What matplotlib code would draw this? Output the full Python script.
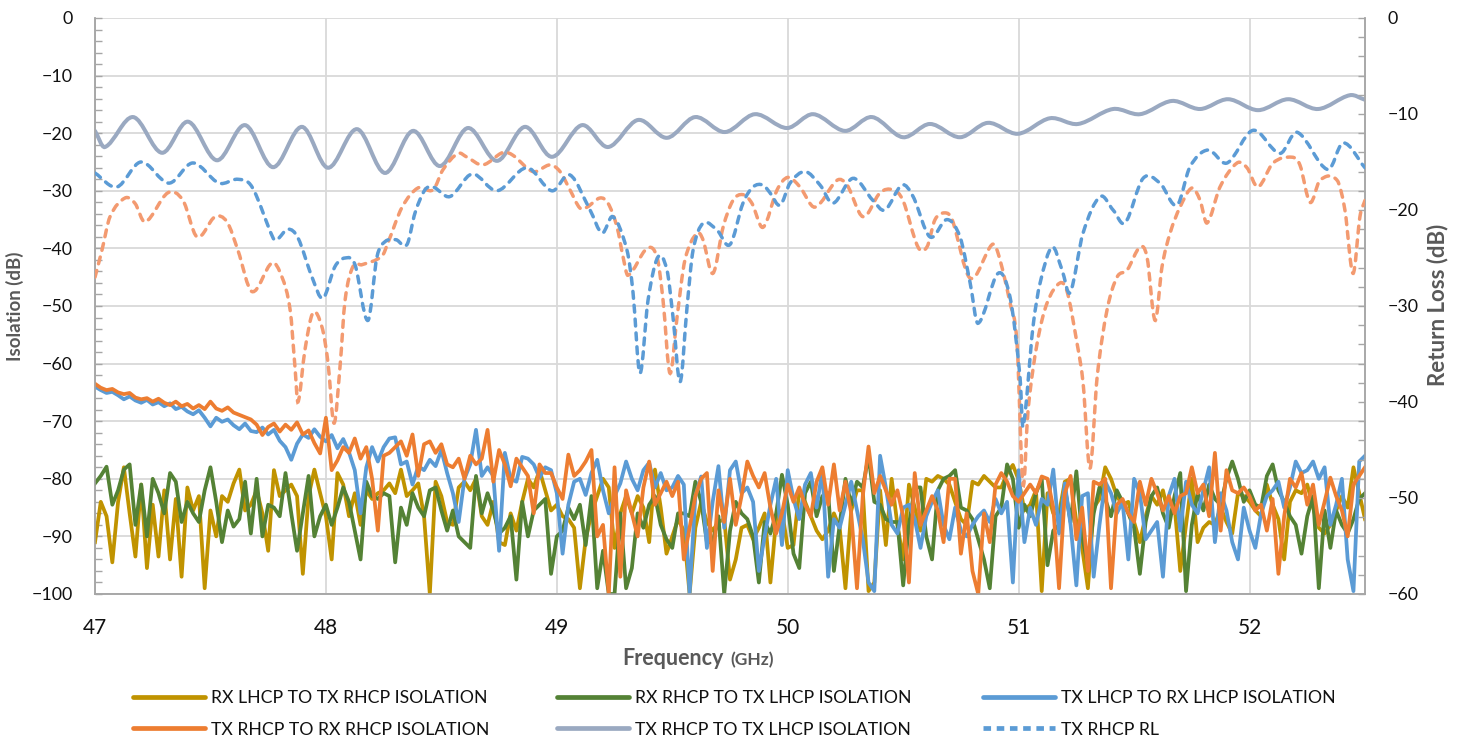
import numpy as np
import matplotlib
matplotlib.use("Agg")
import matplotlib.pyplot as plt
from matplotlib.path import Path
from matplotlib.patches import PathPatch
from matplotlib.lines import Line2D
from matplotlib.ticker import MultipleLocator

plt.rcParams['font.family'] = ['Lato', 'DejaVu Sans']

# ---- frequency sweep for the isolation traces (GHz) ----
freq = np.round(47.0 + 0.025 * np.arange(221), 3)

# ---- isolation traces (dB), left axis ----
rx_lhcp_tx_rhcp = [
    -91.0, -84.0, -86.5, -94.5, -84.0, -78.0, -86.0, -93.5, -81.0, -95.5, -84.5, -93.5, -82.0, -94.0, -83.5, -97.0, -81.5, -85.5, -83.0, -99.0,
    -85.5, -90.0, -83.0, -84.0, -80.8, -78.4, -85.5, -84.5, -82.0, -86.0, -92.5, -78.5, -83.0, -82.0, -81.0, -83.0, -96.5, -83.0, -78.4, -82.5,
    -86.5, -94.0, -79.0, -81.0, -86.5, -82.5, -88.0, -82.0, -83.5, -82.5, -82.0, -80.8, -82.5, -78.4, -83.0, -82.0, -80.8, -86.5, -100.0, -80.5,
    -83.0, -87.5, -88.0, -81.5, -80.5, -82.0, -80.0, -86.5, -88.0, -84.0, -91.0, -91.5, -86.0, -89.0, -84.0, -80.0, -81.5, -78.5, -82.0, -85.5,
    -84.5, -86.5, -87.0, -88.5, -99.0, -90.5, -86.0, -83.0, -80.0, -81.5, -92.0, -86.0, -83.0, -86.0, -83.0, -85.0, -91.0, -78.4, -85.0, -93.0,
    -90.0, -87.0, -89.0, -100.0, -88.5, -84.0, -87.5, -89.0, -87.5, -87.0, -97.5, -94.0, -88.5, -88.0, -90.5, -88.5, -86.0, -98.0, -87.0, -85.5,
    -92.0, -91.5, -82.0, -84.0, -86.5, -89.0, -90.5, -89.0, -86.0, -88.5, -99.0, -85.5, -82.0, -82.0, -99.5, -98.0, -82.0, -91.5, -80.0, -88.0,
    -94.0, -81.0, -85.0, -89.0, -80.0, -80.5, -79.5, -80.0, -81.0, -84.0, -87.0, -88.0, -80.5, -81.0, -79.5, -80.5, -81.5, -81.5, -79.0, -77.6,
    -80.2, -85.5, -84.5, -82.0, -99.5, -82.5, -86.0, -86.0, -80.5, -80.0, -87.5, -92.0, -99.0, -85.0, -83.5, -78.0, -80.0, -83.0, -84.5, -84.0,
    -87.5, -91.0, -86.5, -83.0, -84.5, -82.0, -86.5, -84.5, -96.0, -88.0, -80.0, -91.0, -88.5, -87.5, -88.0, -85.0, -87.5, -89.5, -82.5, -83.0,
    -84.0, -85.5, -86.5, -81.0, -84.5, -87.0, -94.0, -84.0, -82.0, -82.5, -81.0, -85.0, -88.5, -89.5, -88.0, -85.5, -83.0, -85.0, -78.0, -82.5, -87.0,
]

rx_rhcp_tx_lhcp = [
    -80.8, -79.5, -77.9, -84.5, -82.0, -78.4, -77.5, -88.0, -81.0, -90.0, -80.0, -82.5, -86.0, -79.0, -80.5, -87.5, -84.0, -86.0, -87.5, -82.0,
    -78.0, -84.0, -91.0, -85.5, -88.3, -87.0, -80.5, -89.5, -80.0, -90.0, -84.5, -85.0, -86.5, -79.0, -86.0, -92.5, -86.0, -79.5, -90.0, -86.5,
    -84.5, -88.0, -85.0, -81.5, -84.0, -89.0, -94.0, -80.5, -83.0, -83.5, -82.5, -83.0, -94.5, -85.0, -88.0, -82.5, -85.0, -86.5, -82.0, -81.5,
    -85.5, -89.0, -85.5, -90.0, -91.0, -92.0, -79.5, -86.0, -82.5, -85.5, -89.5, -88.5, -86.5, -97.5, -84.0, -90.0, -85.5, -84.5, -83.5, -96.5,
    -90.0, -89.0, -85.0, -87.0, -84.5, -91.5, -83.0, -99.0, -92.5, -100.0, -100.0, -86.0, -99.0, -95.5, -86.0, -88.5, -84.5, -83.0, -88.0, -90.5,
    -92.0, -86.0, -86.0, -86.5, -80.5, -84.0, -91.0, -91.0, -86.5, -100.0, -89.0, -84.0, -86.0, -87.0, -90.0, -98.0, -87.5, -89.5, -86.0, -79.3,
    -84.5, -93.0, -95.5, -82.5, -80.5, -86.5, -83.0, -82.5, -96.0, -88.0, -80.0, -84.5, -80.5, -81.5, -76.0, -84.0, -84.5, -87.0, -87.5, -87.5,
    -98.5, -88.0, -81.5, -81.5, -90.0, -94.0, -82.0, -80.0, -79.5, -78.5, -85.0, -85.5, -87.0, -90.5, -94.0, -99.0, -86.5, -85.0, -77.5, -80.0,
    -88.5, -84.5, -86.5, -82.5, -80.0, -95.0, -89.0, -88.0, -81.5, -87.5, -78.7, -90.0, -95.0, -86.0, -81.5, -83.5, -86.5, -82.0, -84.0, -86.0,
    -88.5, -96.5, -87.5, -83.0, -81.5, -86.0, -88.5, -83.0, -79.0, -99.5, -88.0, -82.5, -85.5, -81.0, -83.5, -84.5, -80.0, -77.0, -80.0, -84.0,
    -82.0, -84.5, -85.0, -79.5, -77.5, -82.0, -84.0, -86.5, -88.0, -93.0, -86.5, -83.0, -99.0, -85.5, -92.0, -85.5, -88.0, -89.5, -87.0, -83.5, -82.5,
]

tx_lhcp_rx_lhcp = [
    -64.0, -64.6, -65.1, -64.9, -65.5, -66.2, -65.7, -66.4, -66.8, -66.3, -67.1, -66.7, -67.4, -66.9, -67.9, -67.5, -68.3, -68.8, -68.1, -69.4,
    -70.9, -69.4, -70.1, -69.7, -70.7, -71.4, -70.4, -71.7, -71.9, -71.1, -72.3, -71.5, -73.4, -74.5, -76.7, -73.9, -72.3, -72.9, -71.4, -72.7,
    -73.5, -72.4, -74.7, -73.1, -75.4, -78.5, -86.0, -78.0, -74.5, -77.0, -74.5, -73.0, -72.8, -77.5, -77.0, -81.0, -77.8, -78.5, -76.7, -77.8,
    -75.0, -79.0, -82.5, -87.5, -80.0, -77.5, -71.5, -79.5, -78.0, -79.5, -92.5, -75.5, -80.0, -80.5, -76.2, -76.5, -77.5, -79.8, -78.0, -78.5,
    -82.5, -93.0, -84.5, -80.5, -80.0, -82.8, -79.0, -76.7, -82.0, -86.0, -83.0, -80.8, -77.0, -80.0, -82.0, -78.5, -77.2, -81.5, -79.0, -82.0,
    -81.5, -79.5, -81.0, -100.0, -83.0, -79.6, -92.0, -84.0, -77.8, -88.5, -78.5, -77.0, -82.5, -81.5, -84.0, -96.0, -90.0, -84.5, -80.0, -91.5,
    -78.5, -83.5, -87.0, -81.0, -79.0, -85.0, -78.5, -97.0, -87.0, -88.5, -84.5, -80.5, -85.5, -90.5, -98.0, -99.5, -76.0, -81.5, -88.0, -89.5,
    -85.0, -84.5, -87.0, -92.0, -86.5, -84.0, -82.0, -88.0, -90.5, -85.0, -89.0, -90.0, -88.0, -86.5, -85.5, -87.5, -83.5, -86.0, -84.0, -98.0,
    -78.5, -91.0, -85.0, -88.0, -83.5, -84.5, -78.4, -89.5, -80.8, -88.0, -98.5, -83.0, -82.5, -97.0, -88.0, -80.5, -82.5, -86.0, -84.0, -94.0,
    -80.0, -82.5, -90.5, -89.0, -87.5, -97.0, -83.0, -80.0, -89.0, -80.5, -84.5, -86.0, -82.0, -78.0, -91.0, -82.5, -85.5, -91.0, -94.0, -85.0,
    -89.0, -92.0, -86.0, -83.0, -82.0, -80.5, -85.0, -81.5, -77.0, -79.0, -78.5, -77.0, -80.0, -78.0, -88.0, -84.5, -80.0, -94.0, -99.5, -77.0, -76.0,
]

tx_rhcp_rx_rhcp = [
    -63.5, -64.2, -64.6, -64.4, -65.0, -65.3, -65.1, -65.9, -66.2, -66.0, -66.6, -66.1, -66.8, -67.2, -66.6, -67.4, -67.0, -67.8, -67.2, -67.9,
    -66.6, -67.8, -68.2, -67.6, -68.5, -68.9, -69.3, -69.7, -70.6, -72.4, -71.0, -70.4, -71.8, -70.6, -71.5, -70.2, -72.3, -71.6, -73.8, -75.6,
    -69.4, -78.5, -76.8, -74.5, -75.5, -73.0, -76.5, -74.5, -80.0, -89.0, -76.0, -75.5, -74.5, -73.5, -76.0, -72.3, -79.5, -74.0, -73.5, -75.5,
    -74.0, -77.5, -78.0, -76.5, -80.0, -76.0, -77.5, -76.5, -71.5, -80.5, -75.0, -77.5, -81.3, -76.5, -78.0, -79.5, -86.0, -77.5, -79.0, -79.0,
    -81.5, -83.5, -75.8, -79.5, -78.5, -77.0, -75.0, -90.0, -88.0, -100.0, -78.0, -97.0, -82.0, -86.0, -90.0, -81.5, -77.0, -84.5, -82.5, -80.5,
    -83.0, -80.5, -94.0, -88.5, -83.0, -80.0, -79.0, -96.0, -82.0, -87.5, -80.0, -88.0, -83.0, -77.0, -79.5, -81.5, -79.0, -85.0, -89.5, -86.0,
    -81.0, -84.0, -81.5, -84.5, -86.5, -80.5, -78.0, -84.5, -77.5, -85.5, -80.5, -86.0, -99.0, -83.0, -74.4, -82.5, -79.5, -82.0, -84.5, -82.0,
    -86.5, -98.0, -79.0, -88.0, -85.5, -83.0, -85.5, -91.0, -80.0, -80.0, -93.0, -86.0, -96.0, -100.0, -86.0, -91.0, -81.0, -79.0, -80.5, -83.0,
    -84.0, -82.5, -81.0, -82.5, -79.6, -80.0, -85.0, -99.0, -82.5, -79.5, -90.5, -85.0, -96.0, -80.5, -81.0, -80.0, -99.0, -84.5, -83.5, -86.0,
    -87.5, -80.5, -84.5, -80.0, -82.5, -85.5, -83.0, -86.0, -83.0, -82.5, -78.0, -82.5, -81.0, -86.5, -75.5, -89.0, -78.5, -82.0, -82.5, -81.5,
    -83.0, -85.5, -84.5, -89.0, -83.5, -96.5, -86.5, -80.0, -81.5, -79.0, -84.5, -81.0, -88.0, -84.0, -79.8, -83.0, -85.5, -90.0, -81.0, -79.5, -78.0,
]

# ---- TX RHCP to TX LHCP isolation (dB), left axis ----
tx_cross_freq = [47.000, 47.043, 47.165, 47.290, 47.403, 47.528, 47.650, 47.771, 47.896, 48.009,
                 48.135, 48.256, 48.377, 48.494, 48.615, 48.741, 48.862, 48.979, 49.109, 49.222,
                 49.352, 49.477, 49.599, 49.728, 49.858, 49.997, 50.110, 50.248, 50.365, 50.499,
                 50.616, 50.746, 50.867, 50.997, 51.136, 51.257, 51.409, 51.526, 51.664, 51.786,
                 51.907, 52.037, 52.167, 52.297, 52.435, 52.500]
tx_cross_iso = [-19.6, -22.4, -17.2, -23.4, -18.0, -24.7, -18.6, -25.9, -18.9, -26.0,
                -19.3, -26.9, -19.6, -25.7, -19.1, -24.8, -18.9, -24.1, -18.6, -22.4,
                -17.7, -20.8, -17.2, -19.8, -16.7, -19.1, -16.7, -19.6, -17.2, -20.7,
                -18.4, -20.7, -18.2, -20.1, -17.4, -18.4, -15.8, -16.7, -14.4, -15.8,
                -14.1, -16.0, -14.1, -15.8, -13.4, -14.2]

# ---- return loss (dB), right axis ----
rl_rhcp_freq = [47.000, 47.095, 47.199, 47.320, 47.424, 47.537, 47.619, 47.680, 47.771, 47.788,
                47.836, 47.879, 47.940, 47.987, 48.039, 48.083, 48.126, 48.182, 48.221, 48.256,
                48.304, 48.351, 48.386, 48.429, 48.464, 48.537, 48.633, 48.741, 48.871, 48.979,
                49.057, 49.144, 49.196, 49.243, 49.304, 49.330, 49.360, 49.395, 49.438, 49.477,
                49.503, 49.534, 49.564, 49.590, 49.633, 49.694, 49.750, 49.806, 49.850, 49.893,
                49.923, 49.967, 50.010, 50.075, 50.140, 50.196, 50.283, 50.369, 50.421, 50.495,
                50.543, 50.616, 50.690, 50.746, 50.790, 50.824, 50.911, 50.963, 51.006, 51.019,
                51.062, 51.093, 51.145, 51.188, 51.223, 51.279, 51.353, 51.409, 51.461, 51.539,
                51.612, 51.686, 51.742, 51.820, 51.903, 52.015, 52.132, 52.206, 52.340, 52.405,
                52.500]
rl_rhcp = [-16.15, -17.6, -15.0, -17.2, -15.1, -17.2, -16.8, -17.6, -22.9, -23.1,
           -22.0, -22.9, -27.0, -29.2, -25.9, -25.0, -25.7, -31.5, -24.9, -23.3,
           -23.1, -23.6, -20.3, -17.9, -17.6, -18.6, -16.25, -18.0, -15.6, -18.0,
           -16.35, -20.0, -22.4, -20.7, -24.2, -28.6, -37.0, -29.4, -24.9, -26.25,
           -31.1, -37.9, -30.1, -24.2, -21.4, -22.1, -23.6, -19.3, -17.6, -17.4,
           -18.2, -19.5, -17.2, -16.0, -17.4, -19.3, -16.7, -19.0, -20.0, -17.4,
           -18.6, -22.8, -21.0, -22.8, -27.6, -31.8, -26.6, -29.1, -37.4, -42.6,
           -32.2, -27.6, -23.85, -26.25, -28.6, -22.4, -18.6, -20.0, -21.35, -16.7,
           -17.2, -19.5, -15.5, -13.75, -15.1, -11.7, -14.1, -11.9, -15.8, -13.0,
           -15.6]

rl_lhcp_freq = [47.000, 47.030, 47.065, 47.130, 47.173, 47.217, 47.316, 47.381, 47.442, 47.520,
                47.572, 47.619, 47.680, 47.767, 47.810, 47.845, 47.866, 47.879, 47.909, 47.944,
                47.983, 48.009, 48.035, 48.061, 48.083, 48.117, 48.156, 48.243, 48.269, 48.330,
                48.399, 48.464, 48.507, 48.572, 48.611, 48.680, 48.767, 48.810, 48.897, 48.971,
                49.014, 49.057, 49.100, 49.131, 49.187, 49.222, 49.261, 49.287, 49.308, 49.391,
                49.434, 49.460, 49.490, 49.521, 49.555, 49.607, 49.633, 49.676, 49.720, 49.763,
                49.806, 49.845, 49.893, 49.954, 50.001, 50.053, 50.118, 50.214, 50.257, 50.326,
                50.400, 50.456, 50.499, 50.564, 50.603, 50.638, 50.681, 50.712, 50.790, 50.885,
                50.911, 50.963, 50.993, 51.019, 51.041, 51.080, 51.123, 51.179, 51.210, 51.253,
                51.279, 51.309, 51.340, 51.383, 51.426, 51.470, 51.526, 51.556, 51.591, 51.621,
                51.656, 51.699, 51.751, 51.786, 51.816, 51.872, 51.946, 51.989, 52.036, 52.102,
                52.184, 52.218, 52.262, 52.305, 52.379, 52.413, 52.448, 52.478, 52.500]
rl_lhcp = [-27.0, -24.2, -20.7, -18.75, -19.3, -21.25, -18.2, -19.0, -22.8, -20.7,
           -21.25, -24.2, -28.5, -25.5, -27.0, -30.4, -36.35, -40.0, -34.6, -30.7,
           -32.2, -35.9, -42.2, -36.35, -29.4, -25.9, -25.7, -24.8, -23.4, -19.7,
           -17.7, -17.9, -15.8, -14.1, -14.5, -15.3, -14.0, -14.3, -16.0, -15.3,
           -16.0, -17.9, -19.8, -19.7, -18.75, -19.3, -21.8, -24.9, -26.8, -24.0,
           -24.9, -29.4, -37.0, -31.1, -25.2, -22.4, -23.1, -26.6, -21.8, -19.0,
           -18.4, -19.3, -21.8, -17.9, -16.6, -17.6, -19.7, -16.9, -17.4, -20.7,
           -18.2, -17.9, -19.0, -23.85, -23.85, -21.0, -20.3, -21.0, -27.1, -23.6,
           -24.5, -29.7, -33.9, -48.6, -40.8, -33.9, -29.7, -27.6, -28.5, -33.9,
           -38.0, -46.9, -37.4, -30.4, -27.0, -26.25, -23.85, -24.9, -31.5, -25.9,
           -22.4, -19.7, -17.7, -19.0, -21.35, -17.6, -15.1, -15.6, -17.6, -15.1,
           -14.5, -15.3, -19.2, -16.9, -16.9, -20.0, -26.6, -20.7, -19.0]

legend_labels = ["RX LHCP TO TX RHCP ISOLATION", "RX RHCP TO TX LHCP ISOLATION",
                 "TX LHCP TO RX LHCP ISOLATION", "TX RHCP TO RX RHCP ISOLATION",
                 "TX RHCP TO TX LHCP ISOLATION", "TX RHCP RL"]

C_GOLD = "#C09300"
C_GREEN = "#548235"
C_BLUE = "#5B9BD5"
C_ORANGE = "#ED7D31"
C_GRAY = "#9AA9C1"
C_SALMON = "#F39A70"
C_AXIS = "#A6A6A6"
C_GRID = "#D9D9D9"
C_TITLE = "#595959"


def smooth_path(x, y):
    """Cubic Bezier path through the points (smoothed-line style)."""
    x = np.asarray(x, float)
    y = np.asarray(y, float)
    n = len(x)
    m = np.empty(n)
    m[1:-1] = (y[2:] - y[:-2]) / (x[2:] - x[:-2])
    m[0] = (y[1] - y[0]) / (x[1] - x[0])
    m[-1] = (y[-1] - y[-2]) / (x[-1] - x[-2])
    verts = [(x[0], y[0])]
    codes = [Path.MOVETO]
    for i in range(n - 1):
        h = x[i + 1] - x[i]
        verts += [(x[i] + h / 3, y[i] + m[i] * h / 3),
                  (x[i + 1] - h / 3, y[i + 1] - m[i + 1] * h / 3),
                  (x[i + 1], y[i + 1])]
        codes += [Path.CURVE4] * 3
    return Path(verts, codes)


fig = plt.figure(figsize=(14.59, 7.36), dpi=100)
ax = fig.add_axes([95 / 1459, 1 - 594 / 736, (1365 - 95) / 1459, (594 - 18) / 736])
ax2 = ax.twinx()

LW = 2.7
ax.plot(freq, rx_lhcp_tx_rhcp, color=C_GOLD, lw=LW, solid_joinstyle='round', zorder=3)
ax.plot(freq, rx_rhcp_tx_lhcp, color=C_GREEN, lw=LW, solid_joinstyle='round', zorder=4)
ax.plot(freq, tx_lhcp_rx_lhcp, color=C_BLUE, lw=LW, solid_joinstyle='round', zorder=5)
ax.plot(freq, tx_rhcp_rx_rhcp, color=C_ORANGE, lw=LW, solid_joinstyle='round', zorder=6)
ax.add_patch(PathPatch(smooth_path(tx_cross_freq, tx_cross_iso), fill=False,
                       edgecolor=C_GRAY, lw=2.9, capstyle='round', zorder=7))

dash = (0, (2.0, 2.0))
ax2.add_patch(PathPatch(smooth_path(rl_lhcp_freq, rl_lhcp), fill=False,
                        edgecolor=C_SALMON, lw=2.5, linestyle=dash, capstyle='round', zorder=3))
ax2.add_patch(PathPatch(smooth_path(rl_rhcp_freq, rl_rhcp), fill=False,
                        edgecolor=C_BLUE, lw=2.5, linestyle=dash, capstyle='round', zorder=4))

ax.set_xlim(47, 52.5)
ax.set_ylim(-100, 0)
ax2.set_ylim(-60, 0)

ax.set_xticks(range(47, 53))
ax.set_yticks(range(-100, 1, 10))
ax.yaxis.set_minor_locator(MultipleLocator(2))
ax2.set_yticks(range(-60, 1, 10))
ax2.yaxis.set_minor_locator(MultipleLocator(2))

ax.grid(True, which='major', color=C_GRID, lw=1.3, zorder=0)
ax.set_axisbelow(True)

for a in (ax, ax2):
    a.spines['top'].set_visible(False)
    for side in ('left', 'right', 'bottom'):
        a.spines[side].set_color(C_AXIS)
        a.spines[side].set_linewidth(1.1)

ax.tick_params(axis='x', length=0, pad=17, labelsize=15, labelcolor='#111111')
ax.tick_params(axis='y', which='both', direction='in', length=5, width=1.0,
               color=C_AXIS, pad=16, labelsize=12.9, labelcolor='#111111')
ax2.tick_params(axis='y', which='both', direction='in', length=5, width=1.0,
                color=C_AXIS, pad=16, labelsize=12.9, labelcolor='#111111')

fig.text(15 / 1459, 1 - 306 / 736, "Isolation (dB)", rotation=90, ha='center', va='center',
         fontsize=13.5, fontweight='bold', color=C_TITLE)
fig.text(1438 / 1459, 1 - 305 / 736, "Return Loss (dB)", rotation=90, ha='center', va='center',
         fontsize=16, fontweight='bold', color=C_TITLE)
fig.text(724 / 1459, 1 - 665 / 736, "Frequency", ha='right', va='baseline',
         fontsize=15.5, fontweight='bold', color=C_TITLE)
fig.text(730 / 1459, 1 - 665 / 736, "(GHz)", ha='left', va='baseline',
         fontsize=12.5, fontweight='bold', color=C_TITLE)

# legend: three columns of two entries
handles = [
    Line2D([], [], color=C_GOLD, lw=3.4, solid_capstyle='round'),
    Line2D([], [], color=C_GREEN, lw=3.4, solid_capstyle='round'),
    Line2D([], [], color=C_BLUE, lw=3.4, solid_capstyle='round'),
    Line2D([], [], color=C_ORANGE, lw=3.4, solid_capstyle='round'),
    Line2D([], [], color=C_GRAY, lw=3.4, solid_capstyle='round'),
    Line2D([], [], color=C_BLUE, lw=3.4, linestyle=(0, (1.6, 1.2)), dash_capstyle='butt'),
]
col_x = [133, 557, 983]
for c in range(3):
    h = [handles[c], handles[c + 3]]
    lab = [legend_labels[c], legend_labels[c + 3]]
    fig.legend(h, lab, loc='upper left', bbox_to_anchor=(col_x[c] / 1459, 1 - 690 / 736),
               frameon=False, fontsize=12.7, handlelength=4.1, handletextpad=0.3,
               borderpad=0, borderaxespad=0, labelspacing=0.88, labelcolor='#111111')

fig.savefig("out.png", dpi=100)
